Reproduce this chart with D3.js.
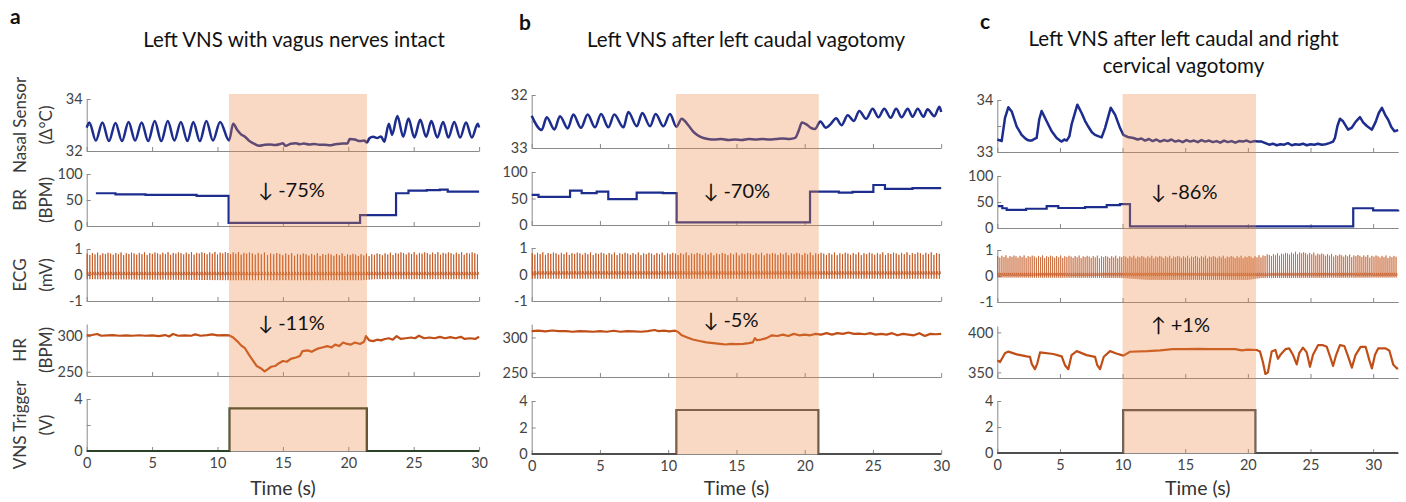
<!DOCTYPE html>
<html>
<head>
<meta charset="UTF-8">
<title>Left VNS recordings</title>
<style>
  body { margin: 0; background: #fff; }
  text { font-family: Lato, "DejaVu Sans", sans-serif; }
  .axis .domain, .axis line { stroke: #8a8a8a; stroke-width: 1; }
  .axis text { fill: #444; font-size: 14.5px; font-family: Lato, sans-serif; }
</style>
</head>
<body>
<div id="chart"></div>
<script src="https://d3js.org/d3.v7.min.js"></script>
<script>
// ---- values ----
var titles = [["Left VNS with vagus nerves intact"], ["Left VNS after left caudal vagotomy"],
              ["Left VNS after left caudal and right", "cervical vagotomy"]];
var letters = ["a", "b", "c"];
var rowLabels = [["Nasal Sensor", "(\u0394\u00b0C)"], ["BR", "(BPM)"], ["ECG", "(mV)"], ["HR", "(BPM)"], ["VNS Trigger", "(V)"]];
var brChange = ["\u2193 -75%", "\u2193 -70%", "\u2193 -86%"];
var hrChange = ["\u2193 -11%", "\u2193 -5%", "\u2191 +1%"];
var timeTicks = [0, 5, 10, 15, 20, 25, 30];
var brTicks = [0, 50, 100];
var ecgTicks = [-1, 0, 1];

// stimulation windows (s)
var stimA = [10.88, 21.43], stimB = [10.57, 21.03], stimC = [10.0, 20.65];

// nasal sensor (deg C)
var nasalA = [[0,32.9],[0.2,33.1],[0.7,32.4],[1.2,33.1],[1.7,32.38],[2.2,33.08],[2.7,32.38],[3.2,33.12],[3.7,32.4],
  [4.2,33.1],[4.7,32.38],[5.2,33.15],[5.7,32.38],[6.2,33.15],[6.7,32.4],[7.2,33.12],[7.7,32.38],[8.15,33.12],
  [8.65,32.38],[9.15,33.15],[9.65,32.4],[10.2,33.12],[10.88,32.4],[11.2,33.05],[11.5,32.82],[11.8,32.64],
  [12.1,32.55],[12.4,32.4],[12.8,32.28],[13.2,32.2],[13.6,32.24],[14.0,32.25],[14.4,32.23],[14.8,32.27],
  [15.0,32.3],[15.2,32.2],[15.6,32.28],[16.0,32.3],[16.3,32.26],[16.6,32.29],[17.0,32.25],[17.4,32.27],
  [17.8,32.24],[18.2,32.24],[18.6,32.22],[19.0,32.26],[19.4,32.28],[19.8,32.29],[19.95,32.3],[20.1,32.46],
  [20.5,32.44],[20.9,32.38],[21.2,32.4],[21.43,32.33],[21.6,32.48],[21.9,32.55],[22.2,32.5],[22.5,32.56],
  [22.75,32.36],[23.1,33.05],[23.35,32.62],[23.75,33.35],[24.2,32.55],[24.6,33.25],[25.05,32.52],[25.5,33.2],
  [25.95,32.55],[26.35,33.15],[26.8,32.52],[27.25,33.12],[27.65,32.52],[28.1,33.12],[28.55,32.52],[29.0,33.1],
  [29.45,32.52],[29.9,33.05],[30,32.9]];
var nasalB = [[0,32.39],[0.73,32.66],[1.1,32.42],[1.66,32.65],[2.07,32.4],[2.64,32.63],[3.05,32.37],[3.61,32.62],
  [4.1,32.37],[4.64,32.61],[5.08,32.36],[5.62,32.61],[6.05,32.37],[6.72,32.61],[7.08,32.32],[7.7,32.59],
  [8.1,32.34],[8.67,32.59],[9.08,32.36],[9.65,32.59],[10.13,32.36],[10.6,32.6],[10.99,32.45],[11.25,32.5],
  [11.5,32.58],[11.8,32.68],[12.1,32.75],[12.45,32.8],[12.9,32.83],[13.4,32.84],[13.9,32.83],[14.4,32.85],
  [14.9,32.84],[15.4,32.85],[15.9,32.83],[16.4,32.84],[16.9,32.83],[17.4,32.84],[17.9,32.83],[18.4,32.82],
  [18.9,32.83],[19.3,32.81],[19.55,32.68],[19.8,32.52],[20.1,32.55],[20.45,32.62],[20.75,32.64],[21.15,32.5],
  [21.55,32.62],[21.9,32.55],[22.3,32.44],[22.7,32.57],[23.15,32.38],[23.6,32.49],[24.0,32.3],[24.5,32.45],
  [24.98,32.26],[25.4,32.42],[25.83,32.26],[26.3,32.43],[26.7,32.26],[27.1,32.42],[27.55,32.26],[27.9,32.41],
  [28.28,32.26],[28.7,32.41],[29.0,32.27],[29.5,32.4],[29.87,32.22],[30,32.32]];
var nasalC = [[0,33.24],[0.35,33.21],[0.61,33.65],[0.88,33.86],[1.15,33.78],[1.55,33.49],[1.94,33.33],[2.15,33.28],
  [2.35,33.24],[2.55,33.22],[2.74,33.22],[2.95,33.25],[3.14,33.27],[3.35,33.63],[3.54,33.79],[3.94,33.59],
  [4.34,33.4],[4.74,33.27],[5.0,33.22],[5.14,33.2],[5.35,33.24],[5.54,33.22],[5.75,33.3],[5.93,33.53],
  [6.39,33.91],[6.73,33.75],[7.0,33.6],[7.26,33.49],[7.55,33.38],[7.8,33.33],[8.1,33.3],[8.33,33.28],
  [8.6,33.46],[9.05,33.85],[9.4,33.72],[9.8,33.46],[10.06,33.33],[10.4,33.29],[10.86,33.27],[11.2,33.24],
  [11.5,33.26],[11.8,33.22],[12.1,33.25],[12.4,33.21],[12.7,33.24],[13.0,33.2],[13.3,33.23],[13.6,33.21],
  [13.9,33.24],[14.2,33.2],[14.5,33.22],[14.8,33.19],[15.1,33.23],[15.4,33.2],[15.7,33.22],[16.0,33.19],
  [16.3,33.23],[16.6,33.2],[16.9,33.22],[17.2,33.19],[17.5,33.21],[17.8,33.18],[18.1,33.22],[18.4,33.19],
  [18.7,33.21],[19.0,33.18],[19.3,33.21],[19.6,33.2],[19.9,33.22],[20.2,33.19],[20.5,33.21],[20.8,33.2],
  [21.1,33.2],[21.4,33.17],[21.7,33.14],[22.0,33.16],[22.3,33.13],[22.6,33.15],[22.9,33.14],[23.2,33.17],
  [23.5,33.13],[23.8,33.15],[24.1,33.14],[24.4,33.16],[24.7,33.13],[25.0,33.15],[25.3,33.14],[25.6,33.16],
  [25.9,33.14],[26.2,33.15],[26.5,33.17],[26.8,33.2],[26.95,33.27],[27.15,33.5],[27.35,33.64],[27.6,33.59],
  [28.0,33.43],[28.3,33.47],[28.6,33.58],[28.95,33.67],[29.2,33.57],[29.5,33.5],[29.9,33.43],[30.2,33.58],
  [30.45,33.75],[30.7,33.85],[30.95,33.72],[31.2,33.62],[31.45,33.48],[31.7,33.4],[32,33.42]];

// breathing rate (BPM), value held until next point
var brA = [[0.7,63],[2.2,61],[4.5,60],[8.4,58],[10.85,6],[20.9,21],[23.65,63],[24.6,68],[26.0,69],[27.0,70],[27.6,66],[30,66]];
var brB = [[0,57],[0.5,53],[2.81,65],[3.66,60],[4.76,63],[5.61,49],[7.69,61],[9.6,60],[10.62,5],[20.39,63],
  [22.5,61],[23.5,62.5],[25.03,75.5],[25.88,68],[27.9,69.5],[30,69.5]];
var brC = [[0.05,42],[0.4,38],[0.75,35],[2.3,37],[3.94,42],[4.87,38.5],[7,40],[8.73,44],[9.79,46],[10.59,3],
  [28.41,38],[30.0,34],[32,35]];

// heart rate (BPM)
var hrA = [[0,301],[0.4,301.5],[0.8,303],[1.1,300.5],[1.6,301],[2,301.5],[2.5,300.5],[3,301],[3.5,300.5],[4,301.2],
  [4.5,300.5],[5,301],[5.5,300],[6,301.5],[6.3,299.5],[6.6,303],[7,300.5],[7.5,301],[8,300.5],[8.3,302.5],
  [8.7,300.5],[9.2,301.5],[9.6,302.5],[10,301],[10.5,301.5],[10.9,301],[11.2,298],[11.5,293],[11.8,287],
  [12.1,283],[12.4,274],[12.7,266],[13.0,258],[13.3,255],[13.6,250.5],[13.8,253],[14.1,257],[14.4,258],
  [14.7,262],[15.0,265],[15.3,264],[15.6,268],[16.0,270],[16.3,272],[16.5,279],[16.9,280],[17.2,278],
  [17.6,282],[18.0,284],[18.4,286],[18.7,284],[19.0,288],[19.3,286],[19.6,291],[19.9,289],[20.2,288],
  [20.5,291],[20.9,289],[21.2,292],[21.35,300],[21.6,294],[21.9,293],[22.2,295],[22.5,294],[22.8,296],
  [23.1,297],[23.4,295],[23.7,300],[24.0,296],[24.4,297],[24.8,298],[25.1,297],[25.4,300.5],[25.8,297],
  [26.2,298],[26.6,297],[27.0,299],[27.4,297],[27.8,298.5],[28.2,297],[28.6,299],[28.9,296],[29.3,297],
  [29.7,296],[30,299]];
var hrB = [[0,309],[0.5,309.5],[1,308.5],[1.5,309.8],[2,308.8],[2.5,309],[3,308],[3.5,309],[4,308.5],[4.5,308],
  [5,309],[5.5,308],[6,309.5],[6.5,308],[7,309],[7.5,308.5],[8,308],[8.5,309],[9,310.5],[9.3,309],[9.7,309.5],
  [10.1,308.5],[10.5,309.5],[10.7,308],[11.0,303],[11.4,300],[11.8,297],[12.3,295],[12.8,293],[13.3,292],
  [13.8,291],[14.2,290],[14.6,291],[15.0,290.5],[15.5,291],[15.9,292],[16.2,293],[16.35,299],[16.5,296],
  [16.8,297],[17.2,299],[17.6,303],[18.0,302],[18.4,304],[18.8,302],[19.2,305],[19.6,303],[20.0,304],
  [20.4,303],[20.8,305],[21.2,304],[21.6,306],[22.0,304],[22.4,306],[22.8,305],[23.2,307],[23.6,305],
  [24.0,305.5],[24.4,304.5],[24.8,306],[25.2,304],[25.6,305],[26.0,304],[26.4,306],[26.8,303],[27.2,305],
  [27.6,304],[28.0,303],[28.4,306],[28.8,302],[29.2,305],[29.6,304.5],[30,305]];
var hrC = [[0,365],[0.22,363],[0.61,374],[0.88,376],[1.55,372.5],[2.35,370],[2.61,369.5],[2.74,361],[3.0,354],
  [3.19,361],[3.41,375],[4.47,373],[5.14,370],[5.4,359],[5.67,354],[5.93,371.6],[6.34,376.6],[7.13,371.6],
  [7.8,369.5],[7.98,359],[8.2,354],[8.5,369.5],[9.0,376.6],[9.5,373.7],[10.06,371],[10.6,375.8],[12,376.5],
  [13,377.5],[14,379],[15,379.2],[16,379.5],[17,379.2],[18,379.2],[19,379],[19.5,377.5],[20,378.5],[20.7,378],
  [20.97,376],[21.2,363],[21.4,348],[21.6,350],[21.9,376],[22.2,378],[22.4,367],[22.6,372],[23.0,379],
  [23.3,380],[23.6,372],[23.9,360],[24.1,374],[24.4,381],[24.7,375],[24.96,357],[25.2,372],[25.6,384],
  [26.0,384],[26.3,382],[26.6,368],[26.8,358],[27.05,372],[27.35,384],[27.7,383],[28.0,370],[28.3,356],
  [28.6,372],[29.0,382],[29.4,382],[29.7,365],[29.9,355],[30.15,372],[30.4,380],[31.0,380],[31.3,377],
  [31.6,360],[31.9,355],[32,355]];

// ECG spike envelopes (mV); beats are timed by the HR trace of the same panel
var ecgTopA = [[0,0.82],[11,0.85],[16,0.8],[21.4,0.78],[24,0.84],[30,0.84]];
var ecgLowA = [[0,-0.16],[11,-0.2],[21,-0.2],[22,-0.16],[30,-0.16]];
var ecgTopB = [[0,0.8],[15,0.78],[30,0.8]];
var ecgLowB = [[0,-0.16],[30,-0.16]];
var ecgTopC = [[0,0.76],[10,0.74],[20.6,0.74],[21.5,0.8],[24,0.9],[27,0.8],[32,0.74]];
var ecgLowC = [[0,-0.06],[10,-0.08],[12,-0.15],[20,-0.15],[21,-0.08],[32,-0.06]];
var ecgJitter = [0, -0.05, 0.02, -0.03, 0.04, -0.06, 0.01, -0.02, 0.03];

// VNS trigger (V)
var vnsA = [[0,0],[10.92,3.28],[21.41,0],[30,0]];
var vnsB = [[0,0],[10.6,3.32],[21.0,0],[30,0]];
var vnsC = [[0,0],[10.05,3.3],[20.6,0],[32,0]];

// ---- layout ----
var blue = "#1d2d8d", brown = "#c04f17";
var panels = [
  { x0: 86.7, x1: 479.1, tmax: 30, tops: [99, 174, 249, 324, 399], h: 52, stim: stimA,
    nasal: nasalA, nasalDom: [32, 34], nasalTicks: [32, 33, 34], nasalLab: [32, 34],
    br: brA, hr: hrA, hrDom: [244, 317], hrTicks: [250, 300], ecgTop: ecgTopA, ecgLow: ecgLowA,
    vns: vnsA, vnsLab: [0, 4], vnsColor: "#2b4128", smooth: true, ecgW: 0.9,
    title: 294, titleY: 46.5, letter: [10, 24], annT: 13.1, brAnnDy: 23, hrAnnDy: 6 },
  { x0: 531.7, x1: 941.2, tmax: 30, tops: [95, 172, 248, 324, 401], h: 53, stim: stimB,
    nasal: nasalB, nasalDom: [33, 32], nasalTicks: [33, 32.5, 32], nasalLab: [32, 33],
    br: brB, hr: hrB, hrDom: [244, 319], hrTicks: [250, 300], ecgTop: ecgTopB, ecgLow: ecgLowB,
    vns: vnsB, vnsLab: [0, 2, 4], vnsColor: "#4f4f4f", smooth: true, ecgW: 0.9,
    title: 746, titleY: 46.5, letter: [519, 30], annT: 12.57, brAnnDy: 26, hrAnnDy: 3 },
  { x0: 997.3, x1: 1398.2, tmax: 32, tops: [100, 176, 250, 326, 401], h: 52, stim: stimC,
    nasal: nasalC, nasalDom: [33, 34], nasalTicks: [33, 33.5, 34], nasalLab: [33, 34],
    br: brC, hr: hrC, hrDom: [343, 408], hrTicks: [350, 400], ecgTop: ecgTopC, ecgLow: ecgLowC,
    vns: vnsC, vnsLab: [0, 2, 4], vnsColor: "#4f4f4f", smooth: false, ecgW: 0.7,
    title: 1183.5, titleY: 45.5, letter: [980, 28.5], annT: 12.24, brAnnDy: 22.5, hrAnnDy: 6 }
];

var svg = d3.select("#chart").append("svg")
  .attr("width", 1406).attr("height", 502);

function envelope(arr) {
  return d3.scaleLinear().domain(arr.map(function (d) { return d[0]; }))
    .range(arr.map(function (d) { return d[1]; })).clamp(true);
}

panels.forEach(function (p, i) {
  var g = svg.append("g");
  var x = d3.scaleLinear().domain([0, p.tmax]).range([p.x0, p.x1]);

  var rows = [
    { dom: p.nasalDom, ticks: p.nasalTicks, lab: p.nasalLab },
    { dom: [0, 100], ticks: brTicks, lab: brTicks },
    { dom: [-1, 1], ticks: ecgTicks, lab: ecgTicks },
    { dom: p.hrDom, ticks: p.hrTicks, lab: p.hrTicks },
    { dom: [0, 4], ticks: [0, 2, 4], lab: p.vnsLab }
  ];
  var ys = rows.map(function (r, k) {
    return d3.scaleLinear().domain(r.dom).range([p.tops[k] + p.h, p.tops[k]]);
  });

  // axes
  rows.forEach(function (r, k) {
    var bottom = p.tops[k] + p.h;
    g.append("g").attr("class", "axis")
      .attr("transform", "translate(0," + bottom + ")")
      .call(d3.axisBottom(x).tickValues(timeTicks).tickSizeInner(-4).tickSizeOuter(0).tickPadding(7)
        .tickFormat(function (d) { return k === 4 ? String(d) : ""; }));
    g.append("g").attr("class", "axis")
      .attr("transform", "translate(" + p.x0 + ",0)")
      .call(d3.axisLeft(ys[k]).tickValues(r.ticks).tickSizeInner(-4).tickSizeOuter(0).tickPadding(4)
        .tickFormat(function (d) { return r.lab.indexOf(d) >= 0 ? String(d) : ""; }));
  });

  // nasal sensor
  g.append("path").datum(p.nasal)
    .attr("fill", "none").attr("stroke", blue).attr("stroke-width", 2.5).attr("stroke-linejoin", "round")
    .attr("d", d3.line().curve(p.smooth ? d3.curveMonotoneX : d3.curveLinear)
      .x(function (d) { return x(d[0]); }).y(function (d) { return ys[0](d[1]); }));

  // breathing rate
  g.append("path").datum(p.br)
    .attr("fill", "none").attr("stroke", blue).attr("stroke-width", 2.2)
    .attr("d", d3.line().curve(d3.curveStepAfter)
      .x(function (d) { return x(d[0]); }).y(function (d) { return ys[1](d[1]); }));

  // ECG: one spike per beat, beat spacing from HR
  var hrAt = envelope(p.hr), top = envelope(p.ecgTop), low = envelope(p.ecgLow);
  var ecgPts = [], t = 0.03, n = 0;
  while (t < p.tmax - 0.02) {
    var pk = top(t) + ecgJitter[n % ecgJitter.length];
    ecgPts.push([t, 0.0], [t + 0.008, pk], [t + 0.016, low(t)], [t + 0.026, 0.06],
      [t + 0.06, 0.12], [t + 0.1, 0.02]);
    t += 60 / hrAt(t);
    n++;
  }
  g.append("path").datum(ecgPts)
    .attr("fill", "none").attr("stroke", brown).attr("stroke-width", p.ecgW).attr("stroke-opacity", 0.85)
    .attr("d", d3.line().x(function (d) { return x(Math.min(d[0], p.tmax)); }).y(function (d) { return ys[2](d[1]); }));

  // heart rate
  g.append("path").datum(p.hr)
    .attr("fill", "none").attr("stroke", brown).attr("stroke-width", 2.2).attr("stroke-linejoin", "round")
    .attr("d", d3.line().x(function (d) { return x(d[0]); }).y(function (d) { return ys[3](d[1]); }));

  // VNS trigger
  g.append("path").datum(p.vns)
    .attr("fill", "none").attr("stroke", p.vnsColor).attr("stroke-width", 2.2)
    .attr("d", d3.line().curve(d3.curveStepAfter)
      .x(function (d) { return x(d[0]); }).y(function (d) { return ys[4](d[1]); }));

  // stimulation shading (drawn over the traces)
  g.append("rect")
    .attr("x", x(p.stim[0])).attr("width", x(p.stim[1]) - x(p.stim[0]))
    .attr("y", 94).attr("height", p.tops[4] + p.h - 94)
    .attr("fill", "#ec8a45").attr("fill-opacity", 0.32);

  // change annotations
  g.append("text").attr("x", x(p.annT)).attr("y", p.tops[1] + p.brAnnDy)
    .attr("font-size", 20).attr("fill", "#111").text(brChange[i]);
  g.append("text").attr("x", x(p.annT)).attr("y", p.tops[3] + p.hrAnnDy)
    .attr("font-size", 20).attr("fill", "#111").text(hrChange[i]);

  // titles and panel letters
  titles[i].forEach(function (line, j) {
    g.append("text").attr("x", p.title).attr("y", p.titleY + j * 27.8)
      .attr("text-anchor", "middle").attr("font-size", 20.5).attr("fill", "#111").text(line);
  });
  g.append("text").attr("x", p.letter[0]).attr("y", p.letter[1])
    .attr("font-size", 21).attr("font-weight", "bold").attr("fill", "#111").text(letters[i]);

  // x label
  g.append("text").attr("x", x(p.tmax / 2)).attr("y", 494.5)
    .attr("text-anchor", "middle").attr("font-size", 19.5).attr("fill", "#333").text("Time (s)");

  // y labels on the first panel only
  if (i === 0) {
    rowLabels.forEach(function (lab, k) {
      var cy = p.tops[k] + p.h / 2;
      lab.forEach(function (s, j) {
        g.append("text")
          .attr("transform", "translate(" + (j === 0 ? 25.5 : 51.5) + "," + cy + ") rotate(-90)")
          .attr("text-anchor", "middle").attr("font-size", 17).attr("fill", "#3a3a3a").text(s);
      });
    });
  }
});
</script>
</body>
</html>
